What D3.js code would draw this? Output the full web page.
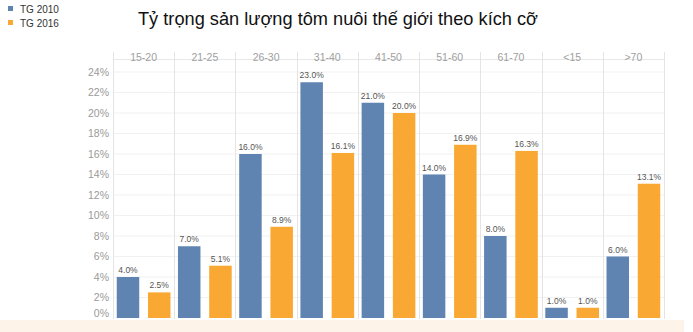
<!DOCTYPE html>
<html>
<head>
<meta charset="utf-8">
<script src="https://cdn.jsdelivr.net/npm/d3@7"></script>
<style>
  body { margin: 0; background: #fff; }
  svg { display: block; font-family: "Liberation Sans", Arial, sans-serif; }
</style>
</head>
<body>
<svg width="693" height="332"></svg>
<script>
var svg = d3.select("svg"),
    width = +svg.attr("width"),
    height = +svg.attr("height");

// size groups and the two series (share in %)
var sizes = ["15-20", "21-25", "26-30", "31-40", "41-50", "51-60", "61-70", "<15", ">70"];
var tg2010 = [4.0, 7.0, 16.0, 23.0, 21.0, 14.0, 8.0, 1.0, 6.0];
var tg2016 = [2.5, 5.1, 8.9, 16.1, 20.0, 16.9, 16.3, 1.0, 13.1];
var seriesNames = ["TG 2010", "TG 2016"];
var yTicks = [0, 2, 4, 6, 8, 10, 12, 14, 16, 18, 20, 22, 24];

var colors = ["#5f84b1", "#f9a933"];

// bottom cream strip
svg.append("rect")
    .attr("x", 0).attr("y", 320)
    .attr("width", 684).attr("height", 12)
    .attr("fill", "#fdf3e9");

var x = d3.scaleBand()
    .domain(sizes)
    .range([113, 664]);

var xs = d3.scaleBand()
    .domain(seriesNames)
    .range([0, x.bandwidth()])
    .paddingInner(0.28)
    .paddingOuter(0.12);

var y = d3.scaleLinear()
    .domain([0, 24])
    .range([318, 72]);

// horizontal grid
svg.append("g")
  .selectAll("line")
  .data(yTicks.slice(1))
  .enter().append("line")
    .attr("x1", 113).attr("x2", 664)
    .attr("y1", function(d) { return y(d); })
    .attr("y2", function(d) { return y(d); })
    .attr("stroke", "#f1f1f1");

// header line
svg.append("line")
    .attr("x1", 113).attr("x2", 664)
    .attr("y1", 59.5).attr("y2", 59.5)
    .attr("stroke", "#e8e8e8");

// column separators
svg.append("g")
  .selectAll("line")
  .data(sizes.concat(["end"]))
  .enter().append("line")
    .attr("x1", function(d, i) { return Math.round(113 + i * x.bandwidth()) + 0.5; })
    .attr("x2", function(d, i) { return Math.round(113 + i * x.bandwidth()) + 0.5; })
    .attr("y1", 52).attr("y2", 319)
    .attr("stroke", "#e4e4e4");

// column headers
svg.append("g")
  .selectAll("text")
  .data(sizes)
  .enter().append("text")
    .attr("x", function(d) { return x(d) + x.bandwidth() / 2; })
    .attr("y", 61)
    .attr("text-anchor", "middle")
    .attr("font-size", "10.5px")
    .attr("fill", "#a0a0a0")
    .text(function(d) { return d; });

// y axis labels
var yAxis = d3.axisLeft(y)
    .tickValues(yTicks)
    .tickSize(0)
    .tickPadding(4)
    .tickFormat(function(d) { return d + "%"; });

var ya = svg.append("g")
    .attr("transform", "translate(113,0)")
    .call(yAxis);
ya.select(".domain").remove();
ya.selectAll("text")
    .attr("font-size", "10.5px")
    .attr("font-family", "\"Liberation Sans\", Arial, sans-serif")
    .attr("fill", "#9a9a9a")
    .attr("dy", function(d) { return d === 0 ? "-0.15em" : "0.32em"; });

// bars
var rows = sizes.map(function(s, i) {
    return { size: s, vals: [tg2010[i], tg2016[i]] };
});

var groups = svg.append("g")
  .selectAll("g")
  .data(rows)
  .enter().append("g")
    .attr("transform", function(d) { return "translate(" + x(d.size) + ",0)"; });

groups.selectAll("rect")
  .data(function(d) { return d.vals; })
  .enter().append("rect")
    .attr("x", function(d, i) { return xs(seriesNames[i]); })
    .attr("width", xs.bandwidth())
    .attr("y", function(d) { return y(d); })
    .attr("height", function(d) { return y(0) - y(d); })
    .attr("fill", function(d, i) { return colors[i]; });

groups.selectAll("text")
  .data(function(d) { return d.vals; })
  .enter().append("text")
    .attr("x", function(d, i) { return xs(seriesNames[i]) + xs.bandwidth() / 2; })
    .attr("y", function(d) { return y(d) - 4; })
    .attr("text-anchor", "middle")
    .attr("font-size", "8.5px")
    .attr("fill", "#555")
    .text(function(d) { return d.toFixed(1) + "%"; });

// title
svg.append("text")
    .attr("x", 138)
    .attr("y", 25)
    .attr("font-size", "18.5px")
    .attr("textLength", 400)
    .attr("lengthAdjust", "spacingAndGlyphs")
    .attr("fill", "#111")
    .text("Tỷ trọng sản lượng tôm nuôi thế giới theo kích cỡ");

// legend
var lg = svg.append("g")
  .selectAll("g")
  .data(seriesNames)
  .enter().append("g")
    .attr("transform", function(d, i) { return "translate(8," + (4 + i * 14) + ")"; });

lg.append("rect")
    .attr("width", 5).attr("height", 5)
    .attr("y", 2)
    .attr("fill", function(d, i) { return colors[i]; });

lg.append("text")
    .attr("x", 12)
    .attr("y", 8.5)
    .attr("font-size", "10px")
    .attr("fill", "#333")
    .text(function(d) { return d; });
</script>
</body>
</html>
